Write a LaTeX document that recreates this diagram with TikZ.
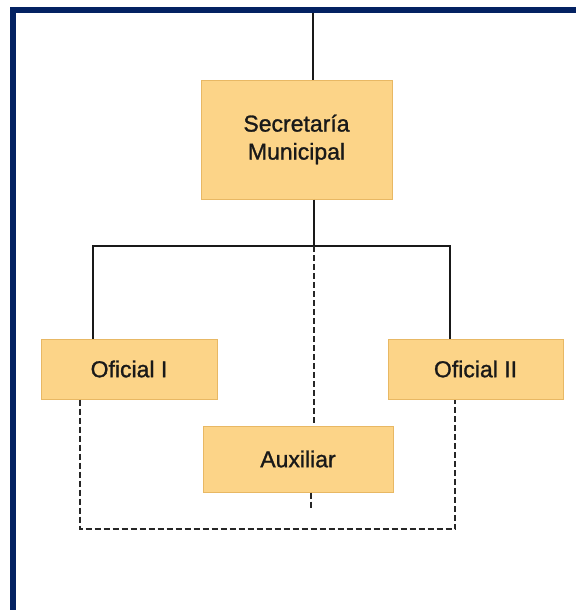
\documentclass[tikz,border=0pt]{standalone}
\usepackage{fontspec}
\setmainfont{Liberation Sans}
\newfontfamily\boxfont{Liberation Sans}[UprightFeatures={FakeBold=1.2}]
\definecolor{framenavy}{RGB}{4,34,98}
\definecolor{boxfill}{RGB}{252,212,136}
\definecolor{boxline}{RGB}{232,184,100}
\tikzset{
	unitbox/.style={draw=boxline,line width=1pt,fill=boxfill,inner sep=0pt,
		font=\boxfont\fontsize{23}{28}\selectfont,text=black!90,align=center},
	solidlink/.style={line width=2.8pt,black!90},
	dashlink/.style={line width=2.4pt,black!85,dash pattern=on 6pt off 3pt}
}
\begin{document}
\begin{tikzpicture}[x=1pt,y=1pt]
	\useasboundingbox (0,0) rectangle (576,-610);
	% frame
	\fill[framenavy] (10,-7) rectangle (576,-13);
	\fill[framenavy] (10,-7) rectangle (16,-610);
	% boxes
	\node[unitbox,minimum width=191pt,minimum height=119pt] (sec) at (296.5,-139.5) {Secretaría\\Municipal};
	\node[unitbox,minimum width=176pt,minimum height=60pt] (of1) at (129,-369) {Oficial I};
	\node[unitbox,minimum width=175pt,minimum height=60pt] (of2) at (475.5,-369) {Oficial II};
	\node[unitbox,minimum width=190pt,minimum height=66pt] (aux) at (298,-459) {Auxiliar};
	% points for the links
	\coordinate (top) at (313,-13);
	\coordinate (bus) at (314,-246);
	\coordinate (busL) at (93,-246);
	\coordinate (busR) at (450,-246);
	\coordinate (auxend) at (311,-508);
	\coordinate (loopL) at (80,-529);
	\coordinate (loopR) at (455,-529);
	% links
	\draw[solidlink] (top) -- (top |- sec.north);
	\draw[solidlink] (bus |- sec.south) -- (bus);
	\draw[solidlink] (busL |- of1.north) -- (busL) -- (busR) -- (busR |- of2.north);
	\draw[dashlink] (bus) -- (bus |- aux.north);
	\draw[dashlink] (auxend |- aux.south) -- (auxend);
	\draw[dashlink] (loopL |- of1.south) -- (loopL) -- (loopR) -- (loopR |- of2.south);
\end{tikzpicture}
\end{document}
